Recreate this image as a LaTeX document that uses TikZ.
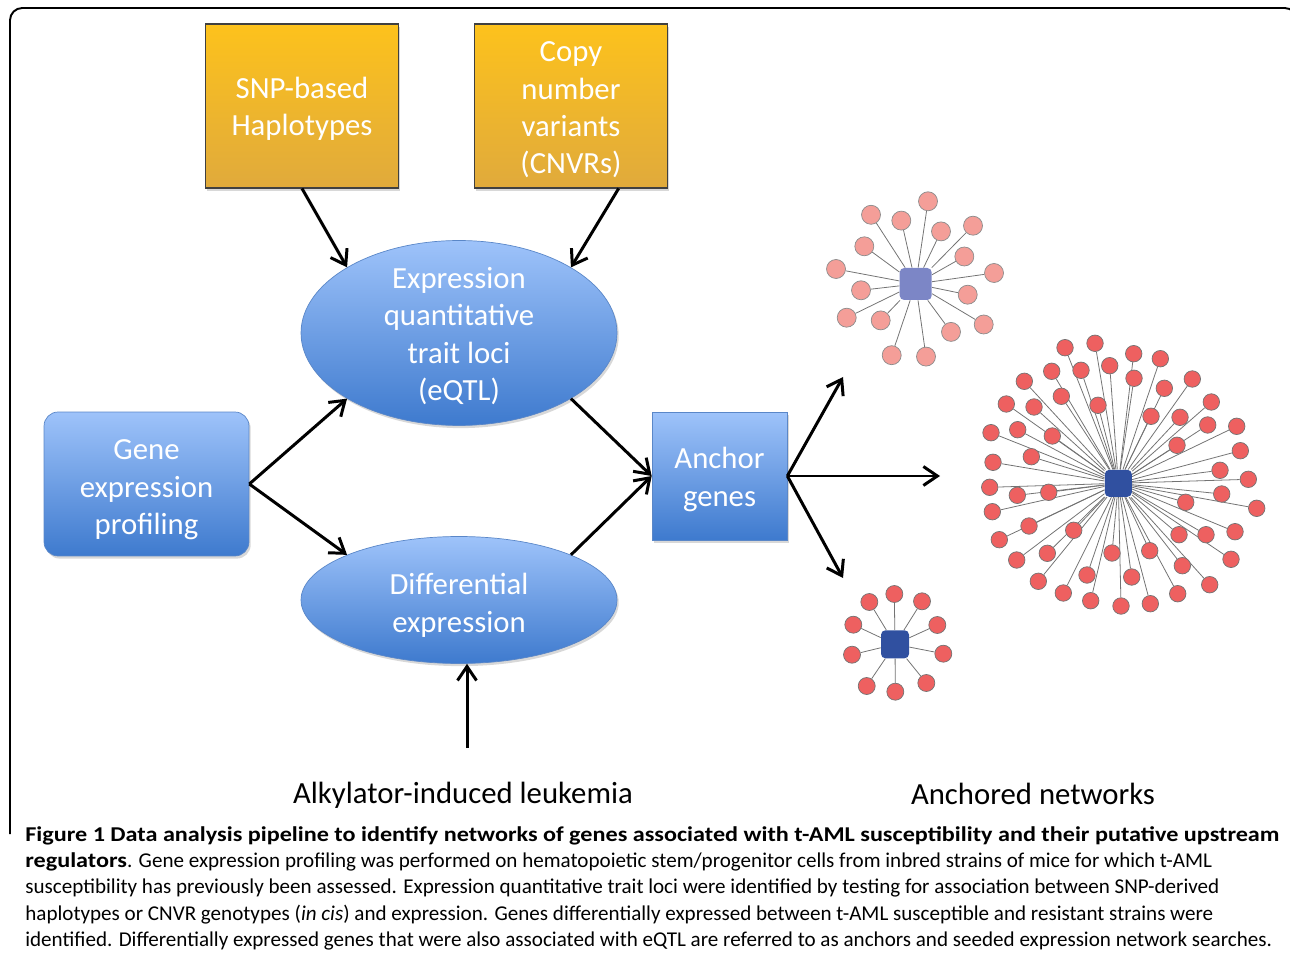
\documentclass[tikz,border=0pt]{standalone}
\usepackage{fontspec}
\setmainfont{Carlito}
\usetikzlibrary{shapes.geometric,arrows.meta,shadows,positioning}

\definecolor{srcTop}{RGB}{253,194,28}
\definecolor{srcBot}{RGB}{224,170,60}
\definecolor{blueTop}{RGB}{158,195,250}
\definecolor{blueBot}{RGB}{62,122,206}
\definecolor{blueEdge}{RGB}{90,135,200}
\definecolor{hubLight}{RGB}{124,134,198}
\definecolor{hubDark}{RGB}{48,80,160}
\definecolor{leafLight}{RGB}{244,158,152}
\definecolor{leafDark}{RGB}{238,96,96}

\pgfdeclarelayer{back}
\pgfsetlayers{back,main}

\begin{document}
\begin{tikzpicture}[
    x=0.02cm, y=-0.02cm,
    % Stili
    shade/.style={drop shadow={shadow xshift=1pt, shadow yshift=-1.5pt, fill=black!30}},
    source/.style={
        rectangle, draw=black!75, line width=0.6pt,
        top color=srcTop, bottom color=srcBot,
        minimum width=3.86cm, minimum height=3.28cm, shade
    },
    process/.style={
        rectangle, draw=blueEdge, line width=0.4pt,
        top color=blueTop, bottom color=blueBot, shade
    },
    stage/.style={
        ellipse, draw=blueEdge, line width=0.4pt,
        top color=blueTop, bottom color=blueBot,
        minimum width=6.32cm, inner sep=0pt, shade
    },
    box_txt/.style={text=white, align=center, font=\fontsize{17.5}{21.3}\selectfont},
    label_txt/.style={font=\fontsize{17.5}{21}\selectfont},
    caption_txt/.style={align=left, inner sep=0pt, font=\fontsize{12}{15}\selectfont},
    hub/.style={rectangle, rounded corners=2.5pt, inner sep=0pt},
    leaf/.style={circle, inner sep=0pt, line width=0.4pt},
    leaf_light/.style={leaf, draw=black!45, fill=leafLight, minimum size=0.38cm},
    leaf_dark/.style={leaf, draw=black!55, fill=leafDark, minimum size=0.33cm},
    link/.style={draw=black!55, line width=0.45pt},
    arrow/.style={-{Straight Barb[length=2.8mm,width=3.8mm]}, line width=1.7pt}
]
\useasboundingbox (0,0) rectangle (1290,955);

% Cornice
\draw[line width=1.1pt, rounded corners=7pt] (10,834) -- (10,8) -- (1297,8) -- (1297,30);

% Sorgenti genotipiche
\node[source] (snp_box) at (302,106) {};
\node[box_txt] (snp_txt) at (302,109) {SNP-based\\Haplotypes};
\node[source] (cnv_box) at (571,106) {};
\node[box_txt] (cnv_txt) at (571,110) {Copy\\number\\variants\\(CNVRs)};

% Analisi
\node[stage, minimum height=3.7cm] (eqtl) at (459,333) {};
\node[box_txt] (eqtl_txt) at (459,336) {Expression\\quantitative\\trait loci\\(eQTL)};
\node[stage, minimum height=2.54cm] (diff) at (459,600) {};
\node[box_txt] (diff_txt) at (459,605.5) {Differential\\expression};

\node[process, rounded corners=8pt, minimum width=4.1cm, minimum height=2.88cm] (gene_box) at (146.5,484) {};
\node[box_txt] (gene_txt) at (146.5,490) {Gene\\expression\\profiling};
\node[process, minimum width=2.7cm, minimum height=2.56cm] (anchor_box) at (719.5,476) {};
\node[box_txt] (anchor_txt) at (719.5,479.5) {Anchor\\genes};

% Etichette
\node[label_txt] (leuk_lbl) at (463,795) {Alkylator-induced leukemia};
\node[label_txt] (net_lbl) at (1033,794) {Anchored networks};

% Flussi
\draw[arrow] (snp_box.south) -- (eqtl.north west);
\draw[arrow] (cnv_box.-60) -- (eqtl.north east);
\draw[arrow] (gene_box.east) -- (eqtl.south west);
\draw[arrow] (gene_box.east) -- (diff.north west);
\draw[arrow] (eqtl.south east) -- (anchor_box.west);
\draw[arrow] (diff.north east) -- (anchor_box.west);

\coordinate (leuk_in) at (467,748);
\draw[arrow] (leuk_in) -- (leuk_in |- diff.south);

\coordinate (net_a_in) at (843,377);
\coordinate (net_b_in) at (940,476);
\coordinate (net_c_in) at (843,578);
\foreach \net in {net_a_in,net_b_in,net_c_in} {
    \draw[arrow] (anchor_box.east) -- (\net);
}

% Rete A (chiara)
\node[hub, fill=hubLight, minimum size=0.64cm] (hub_a) at (915.7,284) {};
\foreach \x/\y [count=\i] in {928/201.3, 871/214.8, 901.3/220.6, 941/231.4, 973/225.7,
    864.3/246.3, 964.3/256.5, 836/269, 994/273, 861/290.3, 967.7/294.7, 846.7/317.7,
    880.7/320.4, 983.7/324.5, 951/331.9, 891.7/355.2, 926/356.6} {
    \node[leaf_light] (a_\i) at (\x,\y) {};
    \begin{pgfonlayer}{back}
        \draw[link] (hub_a) -- (a_\i);
    \end{pgfonlayer}
}

% Rete B (grande)
\node[hub, fill=hubDark, minimum size=0.54cm] (hub_b) at (1118.3,483.3) {};
\foreach \x/\y [count=\i] in {1065/347.7, 1095/343.3, 1133.7/353.7, 1160.3/358.7,
    1051.7/371.3, 1081/370.3, 1109.7/365.7, 1134/378.3, 1164.3/388.3, 1192.3/379,
    1024.3/381.3, 1061.3/396.3, 1098/405.3, 1151/416.3, 1180/417.3, 1211.3/402,
    1006.3/404, 1034/407, 1052.3/436, 1177/445.3, 1207.7/425, 1236.7/426.3,
    991/432.7, 1017.7/429.7, 1031.3/456.7, 1240.3/450.7, 1220/470.3,
    993/462.3, 1248.3/479.3,
    989.7/487.3, 1017.3/495.3, 1048.7/492.3, 1221.7/494, 1185.7/502.3, 1256.7/508.3,
    992.3/511.7,
    1029/526, 1073.7/530.3, 1179/534.7, 1206/534.7, 1235/531.7,
    999.3/539.7, 1047.3/553.3, 1112/553, 1149.7/550.7, 1182.3/565.7, 1231/559.3,
    1016.7/560, 1087/575, 1131.7/577, 1209.7/584.7,
    1038.3/581.3, 1063.3/593, 1090.7/600.7, 1121/606, 1150.3/603.7, 1177.7/593.7} {
    \node[leaf_dark] (b_\i) at (\x,\y) {};
    \begin{pgfonlayer}{back}
        \draw[link] (hub_b) -- (b_\i);
    \end{pgfonlayer}
}

% Rete C (piccola)
\node[hub, fill=hubDark, minimum size=0.56cm] (hub_c) at (895,644.3) {};
\foreach \x/\y [count=\i] in {894.3/594, 869.3/602, 922/601.3, 853.3/624.7, 937.3/625,
    852/654.7, 943.3/653.7, 866.7/686, 895.3/691.7, 926.3/683} {
    \node[leaf_dark, minimum size=0.34cm] (c_\i) at (\x,\y) {};
    \begin{pgfonlayer}{back}
        \draw[link] (hub_c) -- (c_\i);
    \end{pgfonlayer}
}

% Didascalia
\node[caption_txt, anchor=north west] (caption) at (25,826) {%
    {\bfseries\addfontfeatures{FakeStretch=1.147}Figure 1 Data analysis pipeline to identify networks of genes associated with t-AML susceptibility and their putative upstream}\\
    {\bfseries\addfontfeatures{FakeStretch=1.147}regulators}. Gene expression profiling was performed on hematopoietic stem/progenitor cells from inbred strains of mice for which t-AML\\
    susceptibility has previously been assessed. Expression quantitative trait loci were identified by testing for association between SNP-derived\\
    haplotypes or CNVR genotypes (\textit{in cis}) and expression. Genes differentially expressed between t-AML susceptible and resistant strains were\\
    identified. Differentially expressed genes that were also associated with eQTL are referred to as anchors and seeded expression network searches.};

\end{tikzpicture}
\end{document}
